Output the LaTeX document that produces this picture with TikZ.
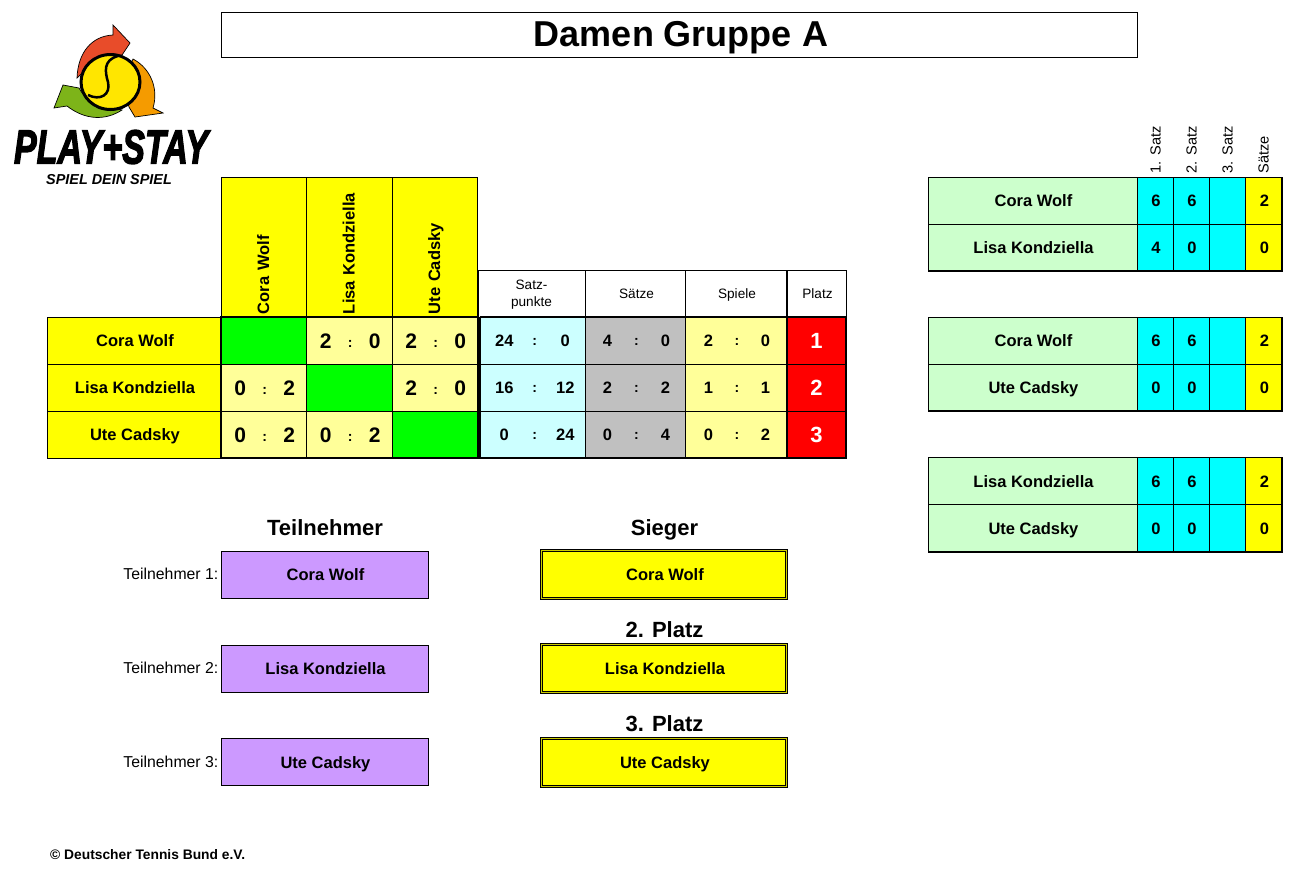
\documentclass[tikz,border=0pt]{standalone}
\usepackage{fontspec}
\setmainfont{Liberation Sans}
\newfontfamily\logofont[BoldItalicFeatures={FakeBold=3}]{Liberation Sans}
\usetikzlibrary{calc}
\definecolor{yellow}{HTML}{FFFF00}
\definecolor{cyan}{HTML}{00FFFF}
\definecolor{green}{HTML}{00FF00}
\definecolor{red}{HTML}{FF0000}
\definecolor{paleyellow}{HTML}{FFFF99}
\definecolor{palecyan}{HTML}{CCFFFF}
\definecolor{midgray}{HTML}{C0C0C0}
\definecolor{palegreen}{HTML}{CCFFCC}
\definecolor{lilac}{HTML}{CC99FF}
\definecolor{logored}{HTML}{E84C2A}
\definecolor{logoorange}{HTML}{F59B00}
\definecolor{logogreen}{HTML}{7DB419}
\definecolor{logoball}{HTML}{FFE600}
\newcommand{\pair}[3]{\hbox to #1pt{\hbox to 0pt{\hss#2\hss}\hfil\raisebox{1pt}{\fontsize{14}{14}\selectfont:}\hfil\hbox to 0pt{\hss#3\hss}}}
\tikzset{
  cell/.style={draw=black, line width=1pt, inner sep=0, outer sep=0, anchor=center, minimum height=47pt},
  nudged/.style={execute at begin node=\kern2pt},
  bigbold/.style={font=\fontsize{21}{24}\selectfont\bfseries, text height=15pt, text depth=0pt, nudged},
  midbold/.style={font=\fontsize{16.5}{19}\selectfont\bfseries, text height=12pt, text depth=0pt, nudged},
  namefont/.style={font=\fontsize{16.5}{19}\selectfont\bfseries, text height=12pt, text depth=0pt},
  plainfont/.style={font=\fontsize{13.6}{17}\selectfont, text height=9pt, text depth=0pt},
  namecell/.style={cell, namefont, nudged, fill=yellow, minimum width=174pt},
  vhead/.style={cell, font=\fontsize{16.5}{19}\selectfont\bfseries, text height=10.5pt, text depth=0pt, fill=yellow, rotate=90, minimum width=140pt, minimum height=85.5pt, text width=134pt},
  headcell/.style={cell, plainfont, fill=white, align=center},
  diag/.style={cell, fill=green, minimum width=85.5pt},
  opp/.style={cell, bigbold, fill=paleyellow, minimum width=85.5pt},
  setpts/.style={cell, midbold, fill=palecyan, minimum width=105.5pt, execute at begin node=\kern3pt},
  sets/.style={cell, midbold, fill=midgray, minimum width=100pt},
  games/.style={cell, midbold, fill=paleyellow, minimum width=101pt},
  place/.style={cell, font=\fontsize{22}{24}\selectfont\bfseries, text height=15.6pt, text depth=0pt, text=white, fill=red, minimum width=59pt},
  match/.style={cell, namefont, nudged, fill=palegreen, minimum width=209pt},
  setcell/.style={cell, midbold, fill=cyan, minimum width=36pt},
  sumcell/.style={cell, midbold, fill=yellow, minimum width=37pt},
  rothead/.style={font=\fontsize{14.6}{16}\selectfont, rotate=90, anchor=west, inner sep=0},
  entrant/.style={cell, namefont, nudged, fill=lilac, minimum width=207pt},
  winner/.style={draw=black, line width=.8pt, double=yellow!80!black, double distance=1.2pt, inner sep=0, outer sep=0, namefont, nudged, fill=yellow, minimum width=245pt, minimum height=48pt},
  entrantlabel/.style={font=\fontsize{15.8}{17}\selectfont, anchor=base east, inner sep=0},
  heading/.style={font=\fontsize{22}{24}\selectfont\bfseries, anchor=base, inner sep=0},
  thickbox/.style={draw=black, line width=2pt},
  logopart/.style={draw=black, line width=.7pt}
}
\begin{document}
\begin{tikzpicture}[x=1pt, y=-1pt]
\useasboundingbox (0,0) rectangle (1302,871);
% logo
\draw[logopart, fill=logored] (77,78) .. controls (78,52) and (92,36) .. (113,35) -- (113,25) -- (130,43) -- (122,55) .. controls (105,56) and (90,65) .. (77,78) -- cycle;
\draw[logopart, fill=logoorange] (133,59) .. controls (150,68) and (159,88) .. (153,108) -- (163,113) -- (135,117) -- (129,107) .. controls (125,95) and (125,75) .. (133,59) -- cycle;
\draw[logopart, fill=logogreen] (54,108) -- (63,85) -- (79,88) .. controls (85,100) and (100,105) .. (122,110) .. controls (105,121) and (85,120) .. (67,106) -- cycle;
\draw[fill=logoball, draw=black, line width=3pt] (110.5,82) ellipse (29.5 and 27.5);
\draw[black, line width=2.5pt] (118,56) .. controls (103,60) and (105,72) .. (108,82) .. controls (111,95) and (100,101) .. (88,95);
\node[inner sep=0, anchor=base, xscale=.71] (logotext) at (111,163.5) {\logofont\bfseries\itshape\fontsize{48}{50}\selectfont PLAY+STAY};
\node[inner sep=0, anchor=base] (logosub) at (109,184) {\fontsize{14.4}{16}\selectfont\bfseries\itshape SPIEL DEIN SPIEL};
% title
\node[cell, font=\fontsize{36}{40}\selectfont\bfseries, text height=26.5pt, text depth=3pt, minimum width=916pt, minimum height=45pt] (title) at (679,34.5) {\kern4pt Damen Gruppe A};
% top row
\node[vhead] (headA) at (263.75,247) {Cora Wolf};
\node[vhead] (headB) at (349.25,247) {Lisa Kondziella};
\node[vhead] (headC) at (434.75,247) {Ute Cadsky};
\node[headcell, minimum width=107pt, text height=25pt] (headPts) at (531.5,293.5) {Satz-\\punkte};
\node[headcell, nudged, minimum width=100pt] (headSets) at (635.5,293.5) {S\"atze};
\node[headcell, nudged, minimum width=101pt] (headGames) at (736,293.5) {Spiele};
\node[headcell, nudged, minimum width=59pt, text height=10pt] (headPlace) at (816.5,293.5) {Platz};
% row 1
\node[namecell] (nameA) at (134,340.5) {Cora Wolf};
\node[diag] (a1) at (263.75,340.5) {};
\node[opp] (a2) at (349.25,340.5) {\pair{49}{2}{0}};
\node[opp] (a3) at (434.75,340.5) {\pair{49}{2}{0}};
\node[setpts] (a4) at (532.25,340.5) {\pair{61}{24}{0}};
\node[sets] (a5) at (635.5,340.5) {\pair{58}{4}{0}};
\node[games] (a6) at (736,340.5) {\pair{57}{2}{0}};
\node[place] (a7) at (816.5,340.5) {1};
% row 2
\node[namecell] (nameB) at (134,387.5) {Lisa Kondziella};
\node[opp] (b1) at (263.75,387.5) {\pair{49}{0}{2}};
\node[diag] (b2) at (349.25,387.5) {};
\node[opp] (b3) at (434.75,387.5) {\pair{49}{2}{0}};
\node[setpts] (b4) at (532.25,387.5) {\pair{61}{16}{12}};
\node[sets] (b5) at (635.5,387.5) {\pair{58}{2}{2}};
\node[games] (b6) at (736,387.5) {\pair{57}{1}{1}};
\node[place] (b7) at (816.5,387.5) {2};
% row 3
\node[namecell] (nameC) at (134,434.5) {Ute Cadsky};
\node[opp] (c1) at (263.75,434.5) {\pair{49}{0}{2}};
\node[opp] (c2) at (349.25,434.5) {\pair{49}{0}{2}};
\node[diag] (c3) at (434.75,434.5) {};
\node[setpts] (c4) at (532.25,434.5) {\pair{61}{0}{24}};
\node[sets] (c5) at (635.5,434.5) {\pair{58}{0}{4}};
\node[games] (c6) at (736,434.5) {\pair{57}{0}{2}};
\node[place] (c7) at (816.5,434.5) {3};
% heavy frames
\draw[thickbox] (a1.north west) rectangle (c3.south east);
\draw[thickbox] (a4.north west) -- (c4.south west);
\draw[thickbox] (a4.north west) -- (a7.north east);
\draw[thickbox] (a7.north west) rectangle (c7.south east);
\draw[thickbox] (c4.south west) -- (c7.south east);
% right side captions
\node[rothead] (capA) at (1155.5,173.5) {1. Satz};
\node[rothead] (capB) at (1191.5,173.5) {2. Satz};
\node[rothead] (capC) at (1227.5,173.5) {3. Satz};
\node[rothead] (capD) at (1263.5,173.5) {S\"atze};
% match 1
\node[match] (m1a) at (1032.5,200.5) {Cora Wolf};
\node[setcell] (m1a1) at (1155,200.5) {6};
\node[setcell] (m1a2) at (1191,200.5) {6};
\node[setcell] (m1a3) at (1227,200.5) {};
\node[sumcell] (m1a4) at (1263.5,200.5) {2};
\node[match] (m1b) at (1032.5,247.5) {Lisa Kondziella};
\node[setcell] (m1b1) at (1155,247.5) {4};
\node[setcell] (m1b2) at (1191,247.5) {0};
\node[setcell] (m1b3) at (1227,247.5) {};
\node[sumcell] (m1b4) at (1263.5,247.5) {0};
\draw[thickbox] (m1b.south west) -- (m1b4.south east) -- (m1a4.north east);
% match 2
\node[match] (m2a) at (1032.5,340.5) {Cora Wolf};
\node[setcell] (m2a1) at (1155,340.5) {6};
\node[setcell] (m2a2) at (1191,340.5) {6};
\node[setcell] (m2a3) at (1227,340.5) {};
\node[sumcell] (m2a4) at (1263.5,340.5) {2};
\node[match] (m2b) at (1032.5,387.5) {Ute Cadsky};
\node[setcell] (m2b1) at (1155,387.5) {0};
\node[setcell] (m2b2) at (1191,387.5) {0};
\node[setcell] (m2b3) at (1227,387.5) {};
\node[sumcell] (m2b4) at (1263.5,387.5) {0};
\draw[thickbox] (m2b.south west) -- (m2b4.south east) -- (m2a4.north east);
% match 3
\node[match] (m3a) at (1032.5,481) {Lisa Kondziella};
\node[setcell] (m3a1) at (1155,481) {6};
\node[setcell] (m3a2) at (1191,481) {6};
\node[setcell] (m3a3) at (1227,481) {};
\node[sumcell] (m3a4) at (1263.5,481) {2};
\node[match] (m3b) at (1032.5,528) {Ute Cadsky};
\node[setcell] (m3b1) at (1155,528) {0};
\node[setcell] (m3b2) at (1191,528) {0};
\node[setcell] (m3b3) at (1227,528) {};
\node[sumcell] (m3b4) at (1263.5,528) {0};
\draw[thickbox] (m3b.south west) -- (m3b4.south east) -- (m3a4.north east);
% participants
\node[heading] (entrantHead) at (325,535) {Teilnehmer};
\node[entrantlabel] (labelA) at (218.5,579.5) {Teilnehmer 1:};
\node[entrantlabel] (labelB) at (218.5,673.5) {Teilnehmer 2:};
\node[entrantlabel] (labelC) at (218.5,767) {Teilnehmer 3:};
\node[entrant] (entrantA) at (324.5,574.5) {Cora Wolf};
\node[entrant] (entrantB) at (324.5,668.5) {Lisa Kondziella};
\node[entrant] (entrantC) at (324.5,762) {Ute Cadsky};
% ranking
\node[heading] (winnerHead) at (664.5,535) {Sieger};
\node[heading] (secondHead) at (664.5,637.5) {2. Platz};
\node[heading] (thirdHead) at (664.5,731.5) {3. Platz};
\node[winner] (winnerA) at (664,574.5) {Cora Wolf};
\node[winner] (winnerB) at (664,668.5) {Lisa Kondziella};
\node[winner] (winnerC) at (664,762.5) {Ute Cadsky};
% footer
\node[anchor=west, inner sep=0, font=\fontsize{13.8}{15}\selectfont\bfseries] (footer) at (50,855) {\textcopyright{} Deutscher Tennis Bund e.V.};
\end{tikzpicture}
\end{document}
